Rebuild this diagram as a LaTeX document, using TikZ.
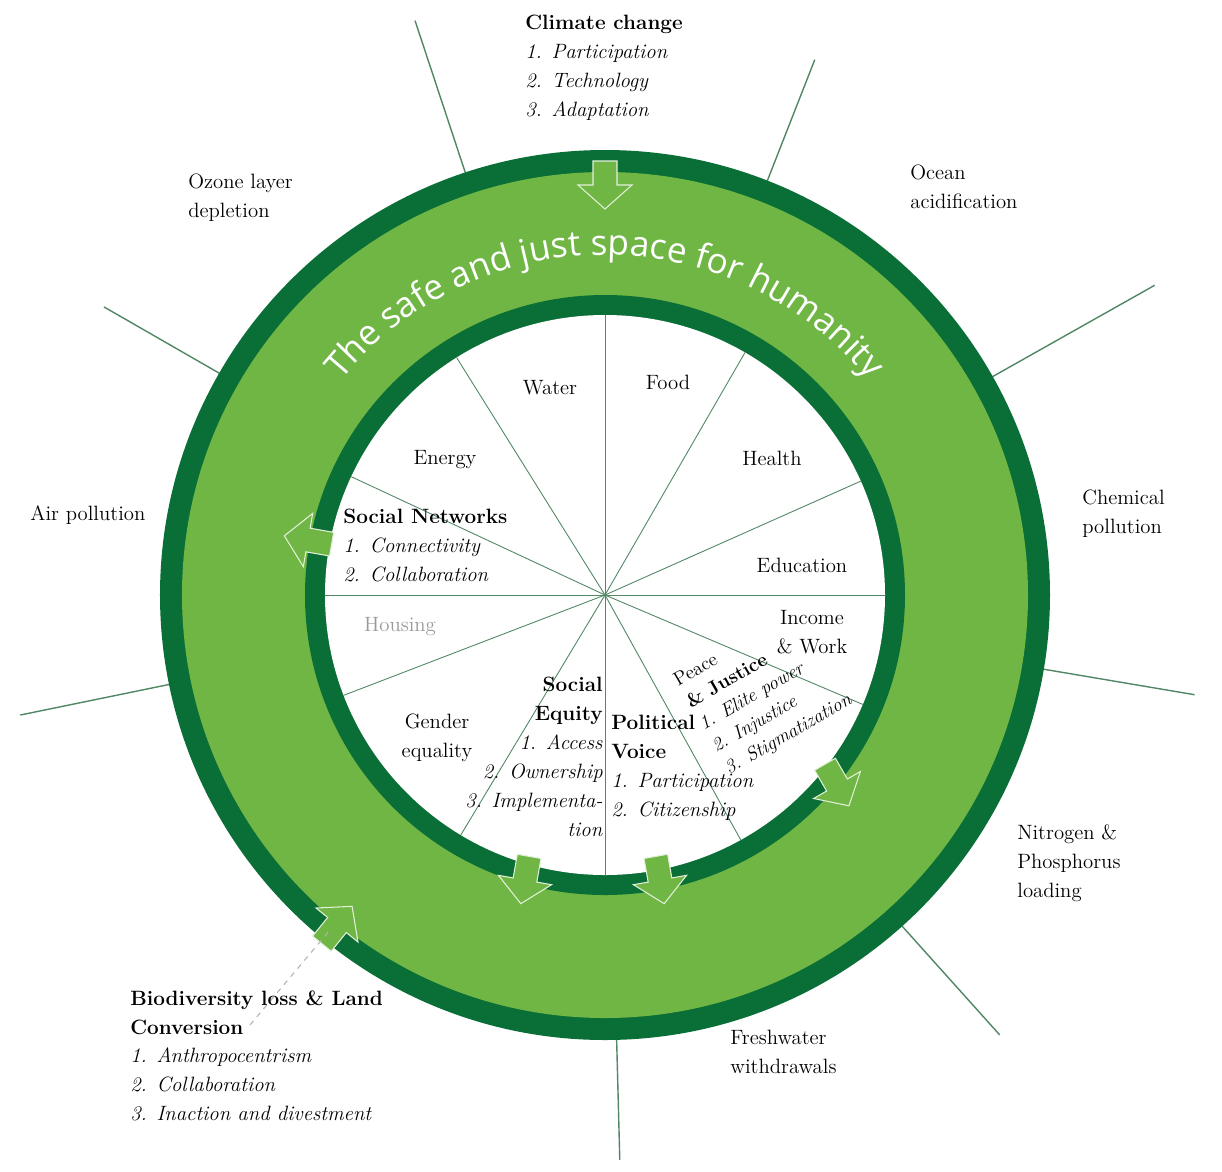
\documentclass[tikz,border=0pt]{standalone}
\usepackage{fontspec}
\usetikzlibrary{decorations.text}
\newfontfamily\titlefont{Open Sans}
\definecolor{darkgreen}{RGB}{10,110,55}
\definecolor{lightgreen}{RGB}{112,182,68}
\definecolor{spoke}{RGB}{80,135,100}
\def\outrad{445}
\def\ringin{423}
\def\innrad{300}
\def\whiterad{280}

\tikzset{
  lbl/.style={font=\fontsize{11.8}{16.5}\selectfont, align=left, inner sep=0pt},
  flowarrow/.pic={
    \fill[lightgreen,draw=white!80!lightgreen,line width=0.6pt]
      (-24,-12) -- (0,-12) -- (0,-27) -- (24,0) -- (0,27) -- (0,12) -- (-24,12) -- cycle;
  }
}

\begin{document}
\begin{tikzpicture}[x=0.02cm,y=0.02cm]
        \useasboundingbox (-605,-576) rectangle (617,595);
        % boundary lines
        \foreach \a/\l in {108.3/605,68.6/575,29.4/631,-9.6/598,-48.1/591,-88.5/565,191.6/597,150.1/578}
          \draw[spoke,line width=0.8pt] (\a:\outrad) -- (\a:\l);
        % rings
        \fill[darkgreen] (0,0) circle (\outrad);
        \fill[lightgreen] (0,0) circle (\ringin);
        \fill[darkgreen] (0,0) circle (\innrad);
        \fill[white] (0,0) circle (\whiterad);
        % sectors
        \foreach \a in {0,24,60,90,122,155,180,201,239,270,299,337}
          \draw[spoke,line width=0.5pt] (0,0) -- (\a:\whiterad);
        % title along the ring
        \path[decorate,decoration={text along path,text align=center,
          text={|\titlefont\fontsize{20}{24}\selectfont\color{white}|The safe and just space for humanity}}]
          (150:340) arc (150:30:340);
        % arrows
        \pic[rotate=-90] at (0,410) {flowarrow};
        \pic[rotate=170] at (-297,55) {flowarrow};
        \pic[rotate=51] at (-268,-330) {flowarrow};
        \pic[rotate=-60] at (232,-190) {flowarrow};
        \pic[rotate=-100] at (-80,-285) {flowarrow};
        \pic[rotate=-80] at (55,-285) {flowarrow};
        % dashed link
        \draw[gray!60,dashed,line width=0.6pt] (-355,-430) -- (-275,-335);
        % outer labels
        \node[lbl,anchor=north west] (climate) at (-80,580) {\textbf{Climate change}\\\textit{1. Participation}\\\textit{2. Technology}\\\textit{3. Adaptation}};
        \node[lbl,anchor=north west] (ozone) at (-417,421) {Ozone layer\\depletion};
        \node[lbl,anchor=north west] (ocean) at (305,430) {Ocean\\acidification};
        \node[lbl,anchor=north west] (chemical) at (477,105) {Chemical\\pollution};
        \node[lbl,anchor=west] (air) at (-575,80) {Air pollution};
        \node[lbl,anchor=north west] (nitro) at (412,-229) {Nitrogen \&\\Phosphorus\\loading};
        \node[lbl,anchor=north west] (fresh) at (125,-435) {Freshwater\\withdrawals};
        \node[lbl,anchor=north west] (biodiv) at (-475,-395) {\textbf{Biodiversity loss \& Land}\\\textbf{Conversion}\\\textit{1. Anthropocentrism}\\\textit{2. Collaboration}\\\textit{3. Inaction and divestment}};
        % inner labels
        \node[lbl] (water) at (-55,207) {Water};
        \node[lbl] (food) at (63,213) {Food};
        \node[lbl] (energy) at (-160,135) {Energy};
        \node[lbl] (health) at (167,137) {Health};
        \node[lbl] (edu) at (197,30) {Education};
        \node[lbl,align=center] (income) at (207,-37) {Income\\\& Work};
        \node[lbl,text=gray!80] (housing) at (-205,-32) {Housing};
        \node[lbl,align=center] (gender) at (-168,-143) {Gender\\equality};
        \node[lbl,anchor=north west] (social) at (-262,86) {\textbf{Social Networks}\\\textit{1. Connectivity}\\\textit{2. Collaboration}};
        \node[lbl,anchor=north east,align=right] (equity) at (-2,-82) {\textbf{Social}\\\textbf{Equity}\\\textit{1. Access}\\\textit{2. Ownership}\\\textit{3. Implementa-}\\\textit{tion}};
        \node[lbl,anchor=north west] (voice) at (6,-120) {\textbf{Political}\\\textbf{Voice}\\\textit{1. Participation}\\\textit{2. Citizenship}};
        \node[lbl,font=\fontsize{11}{14.5}\selectfont,rotate=30,anchor=north west] (peace) at (66,-80) {Peace\\\textbf{\& Justice}\\\textit{1. Elite power}\\\textit{2. Injustice}\\\textit{3. Stigmatization}};
    \end{tikzpicture}
\end{document}
